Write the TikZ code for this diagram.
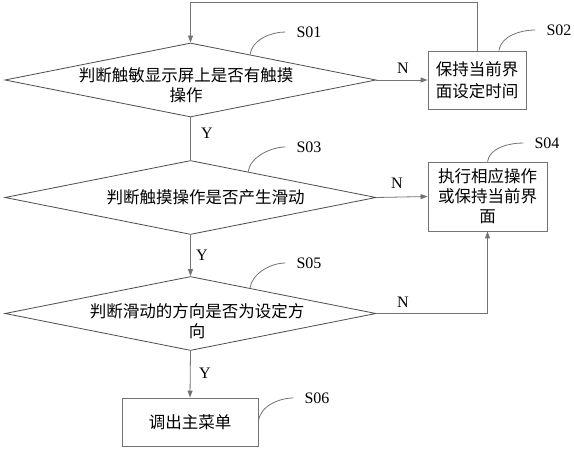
\documentclass[tikz,border=0pt]{standalone}
\usepackage{fontspec}
\setmainfont{Liberation Serif}
\newfontfamily\cjk{Noto Sans CJK SC}
\usetikzlibrary{shapes.geometric,arrows.meta,calc}

\definecolor{linegray}{gray}{0.45}
\definecolor{diamgray}{gray}{0.30}
\newcommand\cjkfont{\cjk\fontsize{16.5bp}{20bp}\selectfont}
\newcommand\latfont{\fontsize{16bp}{16bp}\selectfont}

\tikzset{
  judge/.style={diamond, draw=diamgray, line width=0.8bp, minimum width=371bp, minimum height=74bp, inner sep=0pt},
  procbox/.style={rectangle, draw=linegray, line width=0.8bp, align=center, font=\cjkfont, inner sep=0pt},
  txt/.style={align=center, font=\cjkfont, inner sep=0pt},
  yn/.style={font=\latfont, inner sep=0pt},
  tag/.style={font=\latfont, inner xsep=11bp, inner ysep=0pt},
  flow/.style={draw=linegray, line width=0.8bp},
  arr/.style={flow, -{Triangle[length=7bp,width=5bp]}}
}

\begin{document}
\begin{tikzpicture}[x=1bp,y=-1bp]
    \useasboundingbox (0,0) rectangle (574,450);

    % decisions
    \node[judge] (d1) at (190.5,80) {};
    \node[judge] (d2) at (190.5,197.5) {};
    \node[judge] (d3) at (190.5,313.5) {};
    \node[txt] (t1) at (186,85) {判断触敏显示屏上是否有触摸\\操作};
    \node[txt] (t2) at (205.5,197.5) {判断触摸操作是否产生滑动};
    \node[txt] (t3) at (197,321) {判断滑动的方向是否为设定方\\向};

    % boxes
    \node[procbox, minimum width=98bp, minimum height=58bp] (s02) at (477,80) {保持当前界\\[2bp]面设定时间};
    \node[procbox, minimum width=119bp, minimum height=69bp] (s04) at (487.5,196.5) {执行相应操作\\或保持当前界\\面};
    \node[procbox, minimum width=136bp, minimum height=48bp] (s06) at (190,422) {调出主菜单};

    % connectors
    \draw[arr] (s02.north) -- ++(0,-48) -| (d1.north);
    \draw[arr] (d1.east) -- (s02.west);
    \draw[flow] (d1.south) -- (d2.north);
    \draw[arr] (d2.east) -- (s04.west);
    \draw[arr] (d2.south) -- (d3.north);
    \draw[arr] (d3.east) -| (s04.south);
    \draw[arr] (d3.south) -- (s06.north);

    \node[yn] (n1) at (403,68) {N};
    \node[yn] (n2) at (397,183) {N};
    \node[yn] (n3) at (403,302) {N};
    \node[yn] (y1) at (207,133) {Y};
    \node[yn] (y2) at (202,255) {Y};
    \node[yn] (y3) at (205,373) {Y};

    % step tags
    \node[tag] (l1) at (309,32) {S01};
    \node[tag] (l2) at (559,30) {S02};
    \node[tag] (l3) at (309,147) {S03};
    \node[tag] (l4) at (547,143) {S04};
    \node[tag] (l5) at (309,263) {S05};
    \node[tag] (l6) at (317,398) {S06};

    \draw[flow] ($(d1.north)!0.32!(d1.east)$) .. controls +(2,-15) and +(-14,0) .. (l1.west);
    \draw[flow] ([xshift=22bp]s02.north) .. controls +(2,-15) and +(-14,0) .. (l2.west);
    \draw[flow] ($(d2.north)!0.31!(d2.east)$) .. controls +(2,-15) and +(-14,0) .. (l3.west);
    \draw[flow] (s04.north) .. controls +(2,-14) and +(-14,0) .. (l4.west);
    \draw[flow] ($(d3.north)!0.32!(d3.east)$) .. controls +(2,-15) and +(-14,0) .. (l5.west);
    \draw[flow] (s06.east) .. controls +(1,-16) and +(-14,0) .. (l6.west);
\end{tikzpicture}
\end{document}
